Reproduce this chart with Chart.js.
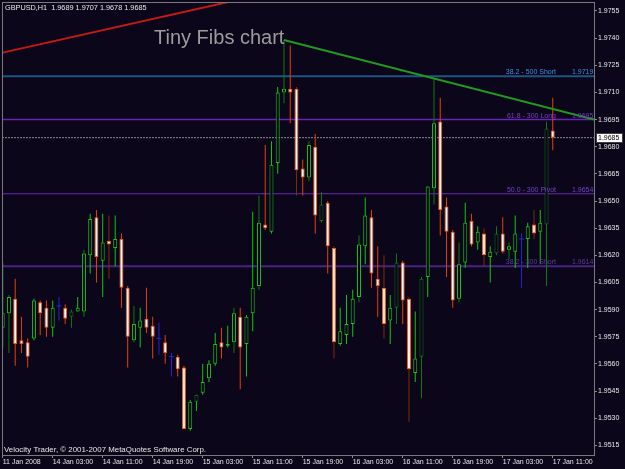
<!DOCTYPE html>
<html>
<head>
<meta charset="utf-8">
<script src="https://cdn.jsdelivr.net/npm/chart.js@4.4.1/dist/chart.umd.min.js"></script>
<style>
  html, body { margin: 0; padding: 0; background: #0b0619; }
  #wrap { width: 625px; height: 469px; }
</style>
</head>
<body>
<div id="wrap"><canvas id="myChart" width="625" height="469"></canvas></div>
<script>
// GBPUSD H1 bars (index 0 = 11 Jan, last = 17 Jan 11:00)
const opens = [1.9580, 1.9588, 1.9596, 1.9573, 1.9572, 1.9574, 1.9594, 1.9591, 1.9580, 1.9592,
    1.9591, 1.9586, 1.9589, 1.9589, 1.9620, 1.9641, 1.9617, 1.9628, 1.9624, 1.9629,
    1.9602, 1.9573, 1.9580, 1.9585, 1.9581, 1.9574, 1.9572, 1.9564, 1.9564, 1.9558,
    1.9524, 1.9539, 1.9544, 1.9552, 1.9560, 1.9572, 1.9570, 1.9572, 1.9586, 1.9571,
    1.9588, 1.9603, 1.9637, 1.9633, 1.9671, 1.9710, 1.9712, 1.9712, 1.9668, 1.9663,
    1.9680, 1.9639, 1.9649, 1.9624, 1.9571, 1.9576, 1.9582, 1.9597, 1.9625, 1.9641,
    1.9607, 1.9602, 1.9584, 1.9591, 1.9616, 1.9596, 1.9555, 1.9564, 1.9608, 1.9657,
    1.9694, 1.9647, 1.9633, 1.9596, 1.9616, 1.9639, 1.9627, 1.9632, 1.9619, 1.9621,
    1.9632, 1.9623, 1.9622, 1.9629, 1.9629, 1.9637, 1.9633, 1.9637, 1.9689]
const highs = [1.9616, 1.9598, 1.9607, 1.9586, 1.9574, 1.9596, 1.9595, 1.9595, 1.9595, 1.9597,
    1.9593, 1.9590, 1.9597, 1.9623, 1.9643, 1.9645, 1.9643, 1.9642, 1.9642, 1.9632,
    1.9603, 1.9592, 1.9591, 1.9602, 1.9586, 1.9583, 1.9576, 1.9566, 1.9565, 1.9559,
    1.9540, 1.9543, 1.9560, 1.9562, 1.9577, 1.9580, 1.9581, 1.9591, 1.9591, 1.9587,
    1.9644, 1.9653, 1.9681, 1.9683, 1.9713, 1.9739, 1.9736, 1.9713, 1.9673, 1.9683,
    1.9687, 1.9655, 1.9650, 1.9625, 1.9591, 1.9598, 1.9601, 1.9631, 1.9652, 1.9645,
    1.9625, 1.9620, 1.9598, 1.9621, 1.9617, 1.9597, 1.9589, 1.9608, 1.9658, 1.9718,
    1.9707, 1.9652, 1.9634, 1.9627, 1.9649, 1.9643, 1.9636, 1.9635, 1.9625, 1.9636,
    1.9641, 1.9627, 1.9642, 1.9632, 1.9638, 1.9645, 1.9645, 1.9694, 1.9707]
const lows = [1.9569, 1.9566, 1.9559, 1.9566, 1.9558, 1.9573, 1.9576, 1.9575, 1.9575, 1.9584,
    1.9582, 1.9580, 1.9589, 1.9586, 1.9610, 1.9605, 1.9597, 1.9607, 1.9614, 1.9591,
    1.9558, 1.9572, 1.9569, 1.9577, 1.9563, 1.9565, 1.9560, 1.9553, 1.9553, 1.9524,
    1.9523, 1.9534, 1.9543, 1.9550, 1.9559, 1.9563, 1.9569, 1.9566, 1.9546, 1.9553,
    1.9578, 1.9601, 1.9634, 1.9632, 1.9665, 1.9704, 1.9693, 1.9653, 1.9653, 1.9661,
    1.9632, 1.9638, 1.9610, 1.9563, 1.9570, 1.9571, 1.9575, 1.9594, 1.9615, 1.9602,
    1.9586, 1.9574, 1.9571, 1.9582, 1.9582, 1.9528, 1.9550, 1.9541, 1.9597, 1.9648,
    1.9631, 1.9608, 1.9591, 1.9594, 1.9613, 1.9625, 1.9623, 1.9614, 1.9605, 1.9620,
    1.9621, 1.9618, 1.9613, 1.9602, 1.9613, 1.9629, 1.9615, 1.9603, 1.9678]
const closes = [1.9588, 1.9597, 1.9571, 1.9571, 1.9564, 1.9595, 1.9588, 1.9580, 1.9591, 1.9592,
    1.9585, 1.9589, 1.9591, 1.9621, 1.9640, 1.9619, 1.9627, 1.9626, 1.9629, 1.9602,
    1.9575, 1.9582, 1.9584, 1.9580, 1.9575, 1.9574, 1.9566, 1.9564, 1.9557, 1.9524,
    1.9539, 1.9543, 1.9550, 1.9560, 1.9571, 1.9569, 1.9571, 1.9588, 1.9569, 1.9586,
    1.9602, 1.9638, 1.9635, 1.9670, 1.9710, 1.9712, 1.9710, 1.9667, 1.9663, 1.9681,
    1.9642, 1.9648, 1.9625, 1.9572, 1.9578, 1.9582, 1.9596, 1.9626, 1.9642, 1.9610,
    1.9603, 1.9582, 1.9591, 1.9616, 1.9595, 1.9557, 1.9563, 1.9607, 1.9658, 1.9693,
    1.9645, 1.9633, 1.9595, 1.9615, 1.9638, 1.9626, 1.9633, 1.9620, 1.9622, 1.9632,
    1.9622, 1.9625, 1.9632, 1.9629, 1.9636, 1.9632, 1.9638, 1.9690, 1.9685]

// bars drawn in the darker shade
const dimWick = [1, 11, 13, 17, 21, 37, 41, 45, 47, 49, 51, 53, 57, 61, 63, 65, 67, 69, 73, 77, 79, 81, 85, 87]
const dimBody = [11, 31, 51, 63, 67, 79, 87]

const xTickLabels = ['11 Jan 2008', '14 Jan 03:00', '14 Jan 11:00', '14 Jan 19:00', '15 Jan 03:00', '15 Jan 11:00',
    '15 Jan 19:00', '16 Jan 03:00', '16 Jan 11:00', '16 Jan 19:00', '17 Jan 03:00', '17 Jan 11:00']
const barsPerTick = 8
const yTicks = [1.9515, 1.9530, 1.9545, 1.9560, 1.9575, 1.9590, 1.9605, 1.9620, 1.9635, 1.9650,
    1.9665, 1.9680, 1.9695, 1.9710, 1.9725, 1.9740, 1.9755]

const fibNames = ['38.2 - 500 Short', '61.8 - 300 Long', '50.0 - 300 Pivot', '38.2 - 300 Short']
const fibLevels = [1.9719, 1.9695, 1.9654, 1.9614]

// trendlines: [bar index, price] pairs
const redTrend = [[0, 1.9732], [40, 1.9763]]
const greenTrend = [[45, 1.9739], [94.6, 1.9695]]

const X_MIN = -0.11, X_MAX = 94.6
const BG = '#0b0619'
const GREEN = '#14c814', DGREEN = '#0f7a12'
const RED = '#e8400c', DRED = '#862a0c'
const ORANGE = '#ff5418', BEAR_FILL = '#fff4ee'
const BLUE = '#2424d8'
const FONT = "'Liberation Sans', Arial, sans-serif"
const fibLine = ['#1d5585', '#6a22b8', '#6a2ab0', '#4a2282']
const fibText = ['#3a8ee0', '#7a3ec8', '#7a3ec8', '#5e3aa0']
const fibWidth = [2, 1.5, 1, 2]

const isDoji = i => opens[i] === closes[i]
const isBull = i => closes[i] > opens[i]

const tickIdx = xTickLabels.map((t, k) => k * barsPerTick)

const wickColors = opens.map((o, i) => {
    if (isDoji(i)) return BLUE
    const dim = dimWick.includes(i)
    if (isBull(i)) return dim ? DGREEN : GREEN
    return dim ? DRED : RED
})
const bodyBorder = opens.map((o, i) => isBull(i) ? (dimBody.includes(i) ? DGREEN : GREEN) : ORANGE)
const bodyFill = opens.map((o, i) => isBull(i) ? BG : BEAR_FILL)

const lineSet = (pts, color, width, order, dash) => ({
    type: 'line',
    data: pts.map(p => ({x: p[0], y: p[1]})),
    borderColor: color,
    borderWidth: width,
    borderDash: dash || [],
    pointRadius: 0,
    fill: false,
    tension: 0,
    order: order
})

const lastClose = closes[closes.length - 1]

const datasets = [
    ...fibLevels.map((lv, k) => lineSet([[X_MIN, lv], [X_MAX, lv]], fibLine[k], fibWidth[k], 5)),
    lineSet([[X_MIN, lastClose], [X_MAX, lastClose]], '#8a8a8a', 1, 5, [2, 1]),
    {
        type: 'bar',
        data: opens.map((o, i) => ({x: i, y: [lows[i], highs[i]]})),
        backgroundColor: wickColors,
        barThickness: 1,
        grouped: false,
        inflateAmount: 0,
        order: 3
    },
    {
        type: 'bar',
        data: opens.map((o, i) => ({x: i, y: isDoji(i) ? null : [Math.min(o, closes[i]), Math.max(o, closes[i])]})),
        backgroundColor: bodyFill,
        borderColor: bodyBorder,
        borderWidth: 1,
        borderSkipped: false,
        barThickness: 4,
        grouped: false,
        inflateAmount: 0,
        order: 2
    },
    {
        type: 'line',
        data: opens.map((o, i) => isDoji(i) ? {x: i, y: o} : null).filter(p => p),
        showLine: false,
        pointStyle: 'line',
        pointRadius: 2.5,
        pointBorderColor: BLUE,
        pointBorderWidth: 1,
        order: 1
    },
    lineSet(redTrend, '#c41a16', 2, 0),
    lineSet(greenTrend, '#1f9a1f', 2, 0)
]

const noPad = s => { s.paddingTop = 0; s.paddingBottom = 0; s.paddingLeft = 0; s.paddingRight = 0 }

const overlay = {
    id: 'overlay',
    beforeDraw(chart) {
        const ctx = chart.ctx
        ctx.save()
        ctx.fillStyle = BG
        ctx.fillRect(0, 0, chart.width, chart.height)
        ctx.restore()
    },
    afterDraw(chart) {
        const ctx = chart.ctx
        const a = chart.chartArea
        const y = chart.scales.y
        ctx.save()
        // frame
        ctx.strokeStyle = '#7a7a7a'
        ctx.lineWidth = 1
        ctx.strokeRect(a.left + 0.5, a.top + 0.5, a.right - a.left, a.bottom - a.top)

        // fib labels
        ctx.font = '7px ' + FONT
        ctx.textBaseline = 'alphabetic'
        fibLevels.forEach((lv, k) => {
            const py = y.getPixelForValue(lv) - 2
            ctx.fillStyle = fibText[k]
            ctx.textAlign = 'right'
            ctx.fillText(fibNames[k], a.right - 38, py)
            ctx.textAlign = 'left'
            ctx.fillText(lv.toFixed(4), a.right - 22, py)
        })

        // header + footer
        ctx.fillStyle = '#e6e6e6'
        ctx.textAlign = 'left'
        ctx.textBaseline = 'middle'
        ctx.font = '7.3px ' + FONT
        ctx.fillText('GBPUSD,H1  ' + [opens, highs, lows, closes].map(s => s[s.length - 1].toFixed(4)).join(' '), a.left + 3, a.top + 6)
        ctx.font = '7.9px ' + FONT
        ctx.fillText('Velocity Trader, \u00a9 2001-2007 MetaQuotes Software Corp.', a.left + 2, a.bottom - 5)

        ctx.font = '20px ' + FONT
        ctx.fillStyle = '#9c9c9c'
        ctx.textBaseline = 'alphabetic'
        ctx.fillText('Tiny Fibs chart', a.left + 152, a.top + 42)

        // current price box on the axis
        const py = Math.round(y.getPixelForValue(lastClose))
        ctx.fillStyle = '#ffffff'
        ctx.fillRect(a.right + 2, py - 5, 27, 10)
        ctx.strokeStyle = '#404040'
        ctx.strokeRect(a.right + 2.5, py - 4.5, 26, 9)
        ctx.fillStyle = '#000000'
        ctx.font = '7px ' + FONT
        ctx.textBaseline = 'middle'
        ctx.fillText(lastClose.toFixed(4), a.right + 4, py + 0.5)
        ctx.restore()
    }
}

new Chart(document.getElementById('myChart'), {
    type: 'bar',
    data: { datasets: datasets },
    options: {
        responsive: false,
        animation: false,
        events: [],
        layout: { autoPadding: false, padding: { left: 2, top: 2, right: 0, bottom: 0 } },
        plugins: { legend: { display: false }, tooltip: { enabled: false } },
        scales: {
            x: {
                type: 'linear',
                position: 'bottom',
                min: X_MIN,
                max: X_MAX,
                offset: false,
                afterBuildTicks: s => { s.ticks = tickIdx.map(v => ({value: v})) },
                afterFit: s => { s.height = 14; noPad(s) },
                grid: { drawOnChartArea: false, drawTicks: true, tickLength: 3, color: '#8a8a8a', offset: false },
                border: { display: true, color: '#8a8a8a' },
                ticks: {
                    autoSkip: false,
                    maxRotation: 0,
                    align: 'start',
                    padding: 0,
                    color: '#e6e6e6',
                    font: { family: FONT, size: 7 },
                    callback: (v, i) => xTickLabels[i]
                }
            },
            y: {
                type: 'linear',
                position: 'right',
                min: 1.950964,
                max: 1.975997,
                afterBuildTicks: s => { s.ticks = yTicks.map(v => ({value: v})) },
                afterFit: s => { s.width = 31; noPad(s) },
                grid: { drawOnChartArea: false, drawTicks: true, tickLength: 3, color: '#8a8a8a' },
                border: { display: true, color: '#8a8a8a' },
                ticks: {
                    padding: 1,
                    color: '#e6e6e6',
                    font: { family: FONT, size: 7 },
                    callback: v => v.toFixed(4)
                }
            }
        }
    },
    plugins: [overlay]
})
</script>
</body>
</html>
